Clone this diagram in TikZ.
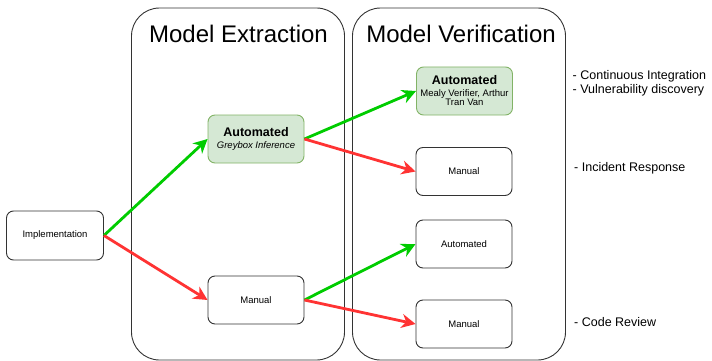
\documentclass[tikz,border=0pt]{standalone}
\usepackage{fontspec}
\setmainfont{Liberation Sans}
\usetikzlibrary{arrows.meta}
\definecolor{okgreen}{HTML}{00CC00}
\definecolor{badred}{HTML}{FF3333}
\definecolor{autofill}{HTML}{D5E8D4}
\definecolor{autoline}{HTML}{82B366}
\definecolor{boxline}{HTML}{333333}
\tikzset{
  stage/.style={draw=boxline, line width=0.9pt, rounded corners=28pt},
  stagetitle/.style={font=\fontsize{24}{28}\selectfont, anchor=base},
  box/.style={draw=boxline, line width=0.9pt, rounded corners=7pt, fill=white,
    minimum width=96pt, minimum height=48pt, inner sep=1pt, align=center,
    font=\fontsize{9.5}{10.5}\selectfont, text=black},
  autobox/.style={box, draw=autoline, fill=autofill},
  note/.style={anchor=base west, font=\fontsize{12.5}{14}\selectfont, inner sep=0pt},
  flow/.style={line width=2.8pt, -{Stealth[length=14pt, width=14pt, inset=4.5pt]}},
  yes/.style={flow, draw=okgreen, fill=okgreen},
  no/.style={flow, draw=badred, fill=badred},
}
\begin{document}
\begin{tikzpicture}[x=1pt, y=-1pt]
\useasboundingbox (0,0) rectangle (712,361);

% the two stage containers
\draw[stage] (131.5,8) rectangle (344.5,360);
\draw[stage] (352.5,8) rectangle (565.5,360);
\node[stagetitle] (titleE) at (238.5,43) {Model Extraction};
\node[stagetitle] (titleV) at (461,43) {Model Verification};

% nodes
\node[box, minimum width=97pt, minimum height=49pt] (impl) at (55,235.5) {Implementation};
\node[autobox] (autoE) at (256,139) {{\fontsize{12.5}{13}\selectfont\bfseries Automated}\\[1.5pt]{\itshape Greybox Inference}};
\node[box] (manE) at (256,300) {Manual};
\node[autobox] (autoV) at (464.5,91) {{\fontsize{12.5}{13}\selectfont\bfseries Automated}\\[1pt]Mealy Verifier, Arthur\\[-1pt]Tran Van};
\node[box] (manV) at (464,171.5) {Manual};
\node[box] (autoV2) at (464,244) {Automated};
\node[box] (manV2) at (464,324) {Manual};

% connectors
\draw[yes] (impl.east) -- (autoE.west);
\draw[no] (impl.east) -- (manE.west);
\draw[yes] (autoE.east) -- (autoV.west);
\draw[no] (autoE.east) -- (manV.west);
\draw[yes] (manE.east) -- (autoV2.west);
\draw[no] (manE.east) -- (manV2.west);

% use cases
\node[note] (ci) at (572.5,79) {- Continuous Integration};
\node[note] (vd) at (572.5,93) {- Vulnerability discovery};
\node[note] (ir) at (574,171) {- Incident Response};
\node[note] (cr) at (574,326.5) {- Code Review};
\end{tikzpicture}
\end{document}
